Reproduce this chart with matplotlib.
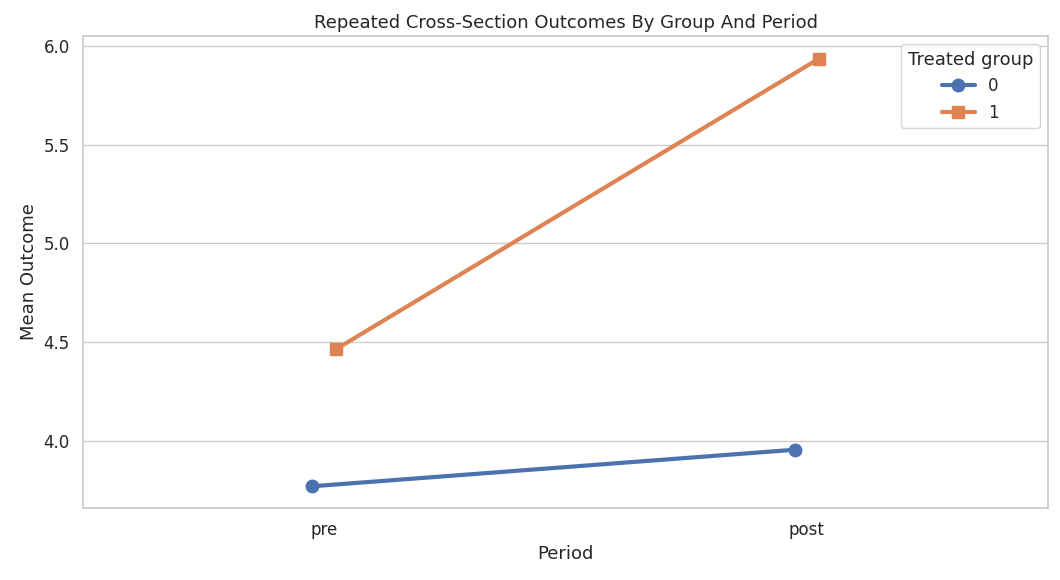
import matplotlib
matplotlib.use("Agg")
import matplotlib.pyplot as plt
import seaborn as sns

periods = ["pre", "post"]
groups = ["0", "1"]
group0 = [3.77, 3.955]
group1 = [4.465, 5.935]

sns.set_theme(style="whitegrid")
plt.rcParams['font.family'] = ['DejaVu Sans']
fig = plt.figure(figsize=(10.6, 5.8), dpi=100)
ax = fig.add_axes([83/1060, 1-508/580, 965/1060, 472/580])
pal = sns.color_palette("deep")
x = list(range(len(periods)))
off = 0.025
ax.plot([i - off for i in x], group0, color=pal[0], lw=3, marker="o", ms=9, label=groups[0])
ax.plot([i + off for i in x], group1, color=pal[1], lw=3, marker="s", ms=9, label=groups[1])
ax.set_xticks(x)
ax.set_xticklabels(periods, fontsize=12)
ax.tick_params(axis='y', labelsize=12)
ax.set_xlim(-0.5, 1.5)
ax.set_ylim(3.66, 6.05)
ax.xaxis.grid(False)
ax.set_xlabel("Period", fontsize=13)
ax.set_ylabel("Mean Outcome", fontsize=13)
ax.set_title("Repeated Cross-Section Outcomes By Group And Period", fontsize=13)
ax.legend(title="Treated group", loc="upper right", fontsize=12, title_fontsize=13)
fig.savefig("out.png", dpi=100)
